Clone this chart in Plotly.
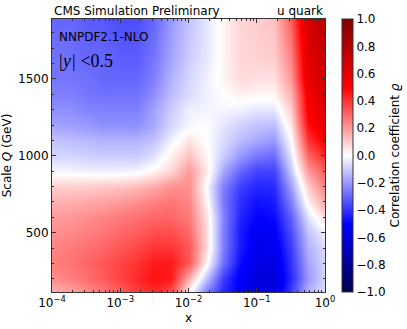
import math
import plotly.graph_objects as go

# ---- data ----
x_exponents = [-4.0, -3.75, -3.5, -3.25, -3.0, -2.75, -2.5, -2.25, -2.0,
               -1.75, -1.5, -1.25, -1.0, -0.75, -0.5, -0.25, 0.0]
q_values = [114, 200, 300, 400, 500, 600, 700, 800, 900, 1000,
            1100, 1200, 1300, 1400, 1500, 1650, 1890]

rho_q114 = [0.15, 0.18, 0.22, 0.27, 0.32, 0.38, 0.42, 0.35, 0.02, -0.25, -0.42, -0.52, -0.58, -0.58, -0.38, -0.15, -0.06]
rho_q200 = [0.22, 0.25, 0.28, 0.32, 0.37, 0.42, 0.47, 0.45, 0.15, -0.12, -0.38, -0.52, -0.60, -0.60, -0.42, -0.20, -0.08]
rho_q300 = [0.25, 0.27, 0.30, 0.33, 0.37, 0.40, 0.45, 0.45, 0.33, 0.03, -0.28, -0.48, -0.57, -0.58, -0.40, -0.18, -0.08]
rho_q400 = [0.24, 0.26, 0.28, 0.30, 0.33, 0.36, 0.40, 0.40, 0.33, 0.08, -0.25, -0.45, -0.55, -0.55, -0.38, -0.15, -0.07]
rho_q500 = [0.22, 0.23, 0.25, 0.27, 0.30, 0.32, 0.35, 0.35, 0.30, 0.08, -0.25, -0.45, -0.53, -0.52, -0.35, -0.12, -0.03]
rho_q600 = [0.20, 0.20, 0.22, 0.24, 0.26, 0.28, 0.30, 0.30, 0.26, 0.07, -0.24, -0.43, -0.50, -0.48, -0.31, -0.06, 0.08]
rho_q700 = [0.15, 0.16, 0.17, 0.18, 0.20, 0.22, 0.25, 0.27, 0.24, 0.03, -0.26, -0.41, -0.47, -0.45, -0.25, 0.03, 0.18]
rho_q800 = [0.10, 0.10, 0.10, 0.11, 0.12, 0.14, 0.17, 0.22, 0.22, 0.00, -0.25, -0.38, -0.43, -0.42, -0.19, 0.10, 0.25]
rho_q900 = [-0.02, -0.02, -0.03, -0.03, -0.03, -0.02, 0.02, 0.08, 0.20, 0.05, -0.17, -0.30, -0.37, -0.37, -0.11, 0.20, 0.32]
rho_q1000 = [-0.08, -0.08, -0.09, -0.10, -0.10, -0.10, -0.06, 0.03, 0.12, 0.02, -0.10, -0.20, -0.27, -0.29, -0.05, 0.30, 0.42]
rho_q1100 = [-0.12, -0.13, -0.14, -0.15, -0.15, -0.15, -0.12, -0.03, 0.05, 0.00, -0.07, -0.13, -0.17, -0.20, 0.00, 0.40, 0.52]
rho_q1200 = [-0.18, -0.19, -0.20, -0.22, -0.22, -0.22, -0.17, -0.08, -0.02, 0.00, -0.05, -0.09, -0.12, -0.13, 0.05, 0.48, 0.58]
rho_q1300 = [-0.22, -0.22, -0.24, -0.25, -0.25, -0.25, -0.18, -0.10, -0.03, -0.02, -0.02, -0.03, -0.05, -0.05, 0.10, 0.52, 0.62]
rho_q1400 = [-0.25, -0.25, -0.27, -0.28, -0.28, -0.28, -0.22, -0.13, -0.07, -0.03, 0.00, 0.03, 0.02, 0.02, 0.15, 0.55, 0.66]
rho_q1500 = [-0.27, -0.27, -0.28, -0.30, -0.30, -0.30, -0.25, -0.15, -0.08, -0.03, 0.02, 0.07, 0.06, 0.06, 0.20, 0.60, 0.68]
rho_q1650 = [-0.28, -0.28, -0.30, -0.30, -0.32, -0.32, -0.27, -0.18, -0.10, -0.05, 0.02, 0.08, 0.09, 0.10, 0.25, 0.62, 0.72]
rho_q1890 = [-0.30, -0.30, -0.32, -0.33, -0.35, -0.35, -0.30, -0.20, -0.12, -0.05, 0.02, 0.08, 0.10, 0.12, 0.32, 0.66, 0.78]

x_tick_exponents = [-4, -3, -2, -1, 0]
x_tick_labels = ["10<sup>−4</sup>", "10<sup>−3</sup>", "10<sup>−2</sup>", "10<sup>−1</sup>", "10<sup>0</sup>"]
y_tick_values = [500, 1000, 1500]
cb_tick_values = [-1.0, -0.8, -0.6, -0.4, -0.2, 0.0, 0.2, 0.4, 0.6, 0.8, 1.0]

z = [rho_q114, rho_q200, rho_q300, rho_q400, rho_q500, rho_q600, rho_q700,
     rho_q800, rho_q900, rho_q1000, rho_q1100, rho_q1200, rho_q1300,
     rho_q1400, rho_q1500, rho_q1650, rho_q1890]

# matplotlib "seismic"
seismic = [[0.0, "rgb(0,0,77)"], [0.25, "rgb(0,0,255)"], [0.5, "rgb(255,255,255)"],
           [0.75, "rgb(255,0,0)"], [1.0, "rgb(128,0,0)"]]

minor_x = [d + math.log10(k) for d in range(-4, 0) for k in range(2, 10)]

FONT = "DejaVu Sans"
fig = go.Figure(go.Heatmap(
    x=x_exponents, y=q_values, z=z, zmin=-1, zmax=1, zsmooth="best",
    colorscale=seismic,
    colorbar=dict(
        x=1.064, xanchor="left", xref="paper", xpad=0, y=0.5, yanchor="middle",
        len=1.0, lenmode="fraction", thickness=11, ypad=0,
        outlinewidth=1, outlinecolor="#333",
        tickmode="array", tickvals=cb_tick_values,
        ticktext=[("−" if v < 0 else "") + f"{abs(v):.1f}" for v in cb_tick_values],
        ticks="", tickfont=dict(family=FONT, size=12, color="black"),
        title=dict(text="Correlation coefficient <i>ϱ</i>", side="right",
                   font=dict(family=FONT, size=12, color="black")),
    ),
))

axis_common = dict(showline=True, linecolor="#333", linewidth=1, mirror="allticks",
                   ticks="inside", ticklen=4, tickcolor="#333", showgrid=False,
                   zeroline=False, tickfont=dict(family=FONT, size=12, color="black"))

fig.update_xaxes(range=[-4, 0], tickmode="array", tickvals=x_tick_exponents,
                 ticktext=x_tick_labels,
                 minor=dict(tickmode="array", tickvals=minor_x, ticks="inside",
                            ticklen=2, tickcolor="#333", showgrid=False),
                 title=dict(text="x", font=dict(family=FONT, size=12, color="black"),
                            standoff=4),
                 **axis_common)
fig.update_yaxes(range=[114, 1890], tickmode="array", tickvals=y_tick_values,
                 minor=dict(dtick=100, tick0=0, ticks="inside", ticklen=2,
                            tickcolor="#333", showgrid=False),
                 title=dict(text="Scale <i>Q</i> (GeV)",
                            font=dict(family=FONT, size=12, color="black"), standoff=5),
                 **axis_common)

fig.add_annotation(x=0, y=1, xref="paper", yref="paper", xanchor="left", yanchor="bottom",
                   text="CMS Simulation Preliminary", showarrow=False, yshift=-1,
                   font=dict(family=FONT, size=12, color="black"))
fig.add_annotation(x=1, y=1, xref="paper", yref="paper", xanchor="right", yanchor="bottom",
                   text="u quark", showarrow=False, yshift=-1,
                   font=dict(family=FONT, size=12, color="black"))
fig.add_annotation(x=0.02, y=0.935, xref="paper", yref="paper", xanchor="left", yanchor="middle",
                   text="NNPDF2.1-NLO", showarrow=False,
                   font=dict(family=FONT, size=12, color="black"))
fig.add_annotation(x=0.015, y=0.845, xref="paper", yref="paper", xanchor="left", yanchor="middle",
                   text="<i>|y|</i> &lt;0.5", showarrow=False,
                   font=dict(family="Liberation Serif", size=18, color="black"))

fig.update_layout(width=407, height=329,
                  margin=dict(l=52, r=81.5, t=19, b=37, autoexpand=False),
                  paper_bgcolor="white", plot_bgcolor="white",
                  font=dict(family=FONT, size=12, color="black"))

fig.write_html("out.html", config={"displayModeBar": False},
               post_script="document.body.style.margin='0';")
